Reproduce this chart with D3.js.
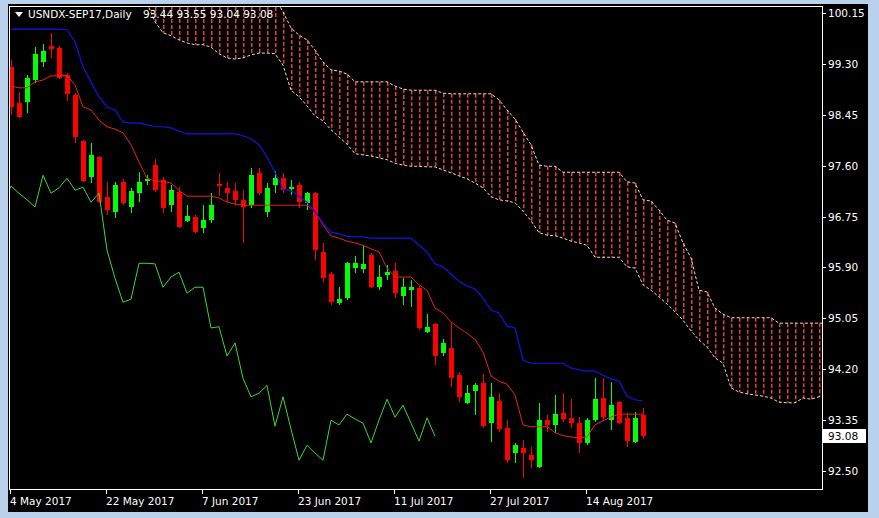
<!DOCTYPE html>
<html><head><meta charset="utf-8">
<script src="https://cdn.jsdelivr.net/npm/d3@7"></script>
<style>
html,body{margin:0;padding:0;background:#b9d1ea;}
svg{display:block}
text{font-family:"DejaVu Sans",sans-serif;}
</style></head><body>
<svg id="chart" width="879" height="518"></svg>
<script>
// ---------- DATA ----------
const symbolTitle = "USNDX-SEP17,Daily";
const lastQuote = ["93.44", "93.55", "93.04", "93.08"];
const currentPrice = 93.08;

const dateTickIndex = [0, 12, 24, 36, 48, 60, 72];
const dateTickLabels = ["4 May 2017", "22 May 2017", "7 Jun 2017", "23 Jun 2017", "11 Jul 2017", "27 Jul 2017", "14 Aug 2017"];
const priceTicks = [100.15, 99.30, 98.45, 97.60, 96.75, 95.90, 95.05, 94.20, 93.35, 92.50];

const opens = [99.25,98.65,98.66,99.03,99.33,99.60,99.57,99.11,98.78,98.01,
  97.41,97.74,97.08,96.83,97.33,96.91,97.14,97.35,97.61,97.36,
  96.94,97.16,96.68,96.74,96.56,96.69,97.29,97.23,97.18,97.03,
  96.94,97.48,96.83,97.28,97.39,97.21,97.28,96.98,97.14,96.16,
  95.79,95.31,95.39,95.89,95.87,96.11,95.57,95.77,95.84,95.42,
  95.52,95.56,94.82,94.96,94.47,94.55,94.10,93.64,93.84,93.97,
  93.30,93.67,93.22,92.80,92.88,92.77,92.57,93.35,93.27,93.47,
  93.39,93.30,92.97,93.35,93.72,93.35,93.65,93.39,92.98,93.44];
const highs = [99.37,98.83,99.11,99.58,99.63,99.82,99.60,99.15,98.81,98.03,
  97.98,97.76,97.33,97.33,97.38,97.23,97.49,97.44,97.71,97.41,
  97.28,97.24,96.94,96.78,96.94,97.14,97.48,97.33,97.31,97.19,
  97.56,97.56,97.31,97.51,97.48,97.36,97.33,97.16,97.16,96.31,
  95.82,95.57,95.99,96.09,96.26,96.14,95.94,95.94,95.97,95.72,
  95.69,95.59,95.12,94.97,94.70,94.97,94.15,93.94,93.97,94.12,
  93.97,93.80,93.35,92.97,93.02,92.90,93.64,93.44,93.77,93.80,
  93.70,93.40,93.39,94.05,94.05,93.99,93.67,93.47,93.49,93.55];
const lows = [98.45,98.40,98.48,98.98,99.25,99.40,99.05,98.68,97.98,97.33,
  97.31,96.98,96.78,96.73,96.94,96.81,96.99,97.28,97.16,96.81,
  96.83,96.56,96.66,96.48,96.48,96.64,97.09,96.99,96.93,96.31,
  96.89,97.11,96.74,97.14,97.14,97.11,96.89,96.86,96.02,95.66,
  95.27,95.27,95.36,95.81,95.81,95.56,95.52,95.69,95.39,95.27,
  95.24,94.86,94.80,94.27,94.42,93.90,93.65,93.62,93.44,93.22,
  92.98,93.15,92.63,92.63,92.38,92.55,92.55,93.15,93.14,93.32,
  93.22,92.80,92.93,93.32,93.35,93.19,93.29,92.90,92.97,93.04];
const closes = [98.58,98.41,99.06,99.47,99.52,99.55,99.06,98.80,98.08,97.34,
  97.78,96.99,96.86,97.28,96.98,97.18,97.33,97.37,97.19,96.89,
  97.19,96.58,96.76,96.49,96.69,96.94,97.26,97.14,97.03,96.91,
  97.44,97.14,97.23,97.39,97.19,97.24,96.99,97.14,96.19,95.72,
  95.32,95.37,95.97,95.97,95.96,95.57,95.74,95.82,95.47,95.57,
  95.57,94.89,94.91,94.42,94.64,94.05,93.74,93.80,93.93,93.25,
  93.74,93.20,92.68,92.93,92.80,92.68,93.35,93.27,93.45,93.37,
  93.30,92.97,93.35,93.70,93.40,93.60,93.30,93.00,93.39,93.08];

const tenkan = [98.93,98.90,98.90,99.00,99.03,99.10,99.10,99.11,98.95,98.58,
  98.53,98.36,98.25,98.21,98.15,97.95,97.66,97.39,97.34,97.34,
  97.31,97.19,97.09,97.09,97.09,97.09,97.06,96.99,96.96,96.94,
  96.94,96.94,96.94,96.94,96.94,96.94,96.94,96.94,96.83,96.61,
  96.43,96.39,96.34,96.31,96.27,96.21,96.16,95.89,95.74,95.74,
  95.74,95.61,95.52,95.22,95.14,94.99,94.89,94.80,94.70,94.49,
  94.09,94.00,93.95,93.77,93.27,93.24,93.24,93.24,93.14,93.09,
  93.07,93.05,93.07,93.27,93.34,93.40,93.45,93.45,93.45,93.45];
const kijun = [99.88,99.88,99.88,99.88,99.88,99.88,99.88,99.87,99.67,99.25,
  99.00,98.75,98.58,98.53,98.33,98.31,98.31,98.28,98.25,98.25,
  98.23,98.18,98.13,98.13,98.13,98.13,98.13,98.13,98.13,98.10,
  98.05,97.95,97.74,97.49,97.21,97.18,97.09,96.99,96.83,96.64,
  96.49,96.46,96.42,96.41,96.41,96.39,96.39,96.39,96.39,96.39,
  96.39,96.27,96.16,95.96,95.91,95.79,95.67,95.59,95.54,95.39,
  95.19,95.14,94.92,94.89,94.35,94.30,94.30,94.30,94.30,94.30,
  94.22,94.19,94.17,94.17,94.10,94.04,94.00,93.75,93.69,93.67];

// cloud (senkou spans), plotted from bar index cloudStart onward
const cloudStart = 17;
const spanUpper = [100.9,100.9,100.9,100.9,100.9,100.9,100.9,100.9,100.9,
  100.75,100.75,100.75,100.75,100.75,100.45,100.45,100.4,
  100.17,99.90,99.78,99.70,99.53,99.33,99.20,99.18,99.13,99.00,
  99.00,99.00,99.00,99.00,98.93,98.88,98.86,98.86,98.86,98.86,
  98.81,98.80,98.80,98.80,98.80,98.80,98.80,98.70,98.53,98.38,
  98.16,97.95,97.61,97.59,97.59,97.49,97.49,97.49,97.49,97.49,
  97.49,97.49,97.49,97.33,97.31,97.03,97.01,96.86,96.69,96.64,
  96.31,96.06,95.52,95.49,95.22,95.12,95.06,95.06,95.06,95.06,
  95.06,95.06,94.97,94.97,94.97,94.97,94.97,94.97,94.97];
const spanLower = [100.32,100.00,99.82,99.77,99.70,99.65,99.62,99.62,99.58,
  99.47,99.40,99.38,99.40,99.45,99.48,99.48,99.47,
  99.28,98.86,98.75,98.60,98.43,98.35,98.20,98.08,97.96,97.80,
  97.78,97.76,97.73,97.70,97.64,97.61,97.59,97.59,97.58,97.58,
  97.53,97.48,97.43,97.38,97.31,97.23,97.08,97.03,97.01,96.98,
  96.84,96.68,96.48,96.44,96.43,96.39,96.34,96.31,96.27,96.07,
  96.07,96.07,96.07,95.91,95.89,95.61,95.52,95.41,95.29,95.16,
  95.02,94.84,94.69,94.57,94.39,94.30,93.89,93.82,93.79,93.77,
  93.75,93.72,93.65,93.64,93.64,93.72,93.70,93.74,93.74];
const chikouShift = 26;

// ---------- LAYOUT ----------
const svg = d3.select("#chart");
const P = {l: 9, r: 822, t: 6, b: 489};
const x = d3.scaleLinear().domain([0, 79]).range([11, 643]);
const y = d3.scaleLinear().domain([92.2, 100.25]).range([489, 7]);
const yTop = P.t + 1;

// window background
svg.append("rect").attr("x", 0).attr("y", 0).attr("width", 879).attr("height", 518).attr("fill", "#b9d1ea");
svg.append("rect").attr("x", 8).attr("y", 4).attr("width", 860).attr("height", 508).attr("fill", "#000");

svg.append("defs").append("clipPath").attr("id", "plotclip")
  .append("rect").attr("x", P.l + 1).attr("y", P.t + 1).attr("width", P.r - P.l - 1).attr("height", P.b - P.t - 1);

// ---------- CLOUD ----------
const cloud = spanUpper.map((u, i) => ({i: cloudStart + i, u: u, l: spanLower[i]}));
const hatchData = cloud.filter(d => x(d.i) < P.r - 1);
svg.append("g").selectAll("line").data(hatchData).join("line")
  .attr("x1", d => Math.round(x(d.i)) + 0.75).attr("x2", d => Math.round(x(d.i)) + 0.75)
  .attr("y1", d => Math.max(yTop, y(d.u))).attr("y2", d => Math.max(yTop, y(d.l)))
  .style("stroke", "#ec3f2c").style("stroke-width", "1.5px").style("stroke-dasharray", "4,2");

const gc = svg.append("g").attr("clip-path", "url(#plotclip)");
const lineU = d3.line().x(d => x(d.i)).y(d => y(d.u));
const lineL = d3.line().x(d => x(d.i)).y(d => y(d.l));
gc.append("path").datum(cloud).attr("d", lineU).attr("fill", "none")
  .attr("stroke", "#f2dccf").attr("stroke-width", 1).attr("stroke-dasharray", "3,2");
gc.append("path").datum(cloud).attr("d", lineL).attr("fill", "none")
  .attr("stroke", "#f2dccf").attr("stroke-width", 1).attr("stroke-dasharray", "3,2");

// ---------- CANDLES ----------
const bars = opens.map((o, i) => ({i, o, h: highs[i], l: lows[i], c: closes[i]}));
const col = d => d.c >= d.o ? "#00ff00" : "#ff0000";
const cg = gc.append("g").attr("shape-rendering", "crispEdges");
cg.selectAll("rect.wick").data(bars).join("rect").attr("class", "wick")
  .attr("x", d => Math.round(x(d.i))).attr("width", 1)
  .attr("y", d => Math.round(y(d.h))).attr("height", d => Math.max(1, Math.round(y(d.l)) - Math.round(y(d.h))))
  .attr("fill", col);
cg.selectAll("rect.body").data(bars).join("rect").attr("class", "body")
  .attr("x", d => Math.round(x(d.i)) - 2).attr("width", 5)
  .attr("y", d => Math.round(y(Math.max(d.o, d.c))))
  .attr("height", d => Math.max(1, Math.round(y(Math.min(d.o, d.c))) - Math.round(y(Math.max(d.o, d.c)))))
  .attr("fill", col);

// ---------- ICHIMOKU LINES ----------
const ln = d3.line().x(d => x(d.i)).y(d => y(d.v));
gc.append("path").datum(tenkan.map((v, i) => ({i, v}))).attr("d", ln)
  .attr("fill", "none").attr("stroke", "#e8231a").attr("stroke-width", 1);
gc.append("path").datum(kijun.map((v, i) => ({i, v}))).attr("d", ln)
  .attr("fill", "none").attr("stroke", "#1414e6").attr("stroke-width", 1.2);
const chikou = closes.map((v, i) => ({i: i - chikouShift, v})).filter(d => d.i >= -1);
gc.append("path").datum(chikou).attr("d", ln)
  .attr("fill", "none").attr("stroke", "#3ed63e").attr("stroke-width", 1);

// ---------- FRAME ----------
svg.append("rect").attr("x", P.l + 0.5).attr("y", P.t + 0.5).attr("width", P.r - P.l).attr("height", P.b - P.t)
  .attr("fill", "none").attr("stroke", "#fff").attr("stroke-width", 1).attr("shape-rendering", "crispEdges");

// price axis
svg.append("g").attr("shape-rendering", "crispEdges").selectAll("line").data(priceTicks).join("line")
  .attr("x1", P.r + 1).attr("x2", P.r + 4)
  .attr("y1", d => Math.round(y(d)) + 0.5).attr("y2", d => Math.round(y(d)) + 0.5)
  .attr("stroke", "#fff");
svg.append("g").selectAll("text").data(priceTicks).join("text")
  .attr("x", 828).attr("y", d => y(d) + 4).attr("fill", "#fff").attr("font-size", "10.5px")
  .text(d => d.toFixed(2));

// current price box
svg.append("rect").attr("x", 823).attr("y", Math.round(y(currentPrice)) - 7).attr("width", 43).attr("height", 14).attr("fill", "#fff");
svg.append("text").attr("x", 828).attr("y", y(currentPrice) + 4).attr("fill", "#000").attr("font-size", "10.5px")
  .text(currentPrice.toFixed(2));

// date axis
svg.append("g").attr("shape-rendering", "crispEdges").selectAll("line").data(dateTickIndex).join("line")
  .attr("x1", d => Math.round(x(d)) - 0.5).attr("x2", d => Math.round(x(d)) - 0.5)
  .attr("y1", P.b + 1).attr("y2", P.b + 5).attr("stroke", "#fff");
svg.append("g").selectAll("text").data(dateTickIndex).join("text")
  .attr("x", d => Math.round(x(d)) - 1).attr("y", 505).attr("fill", "#fff").attr("font-size", "10.5px")
  .text((d, k) => dateTickLabels[k]);

// title
svg.append("path").attr("d", "M15,12 L23,12 L19,17 Z").attr("fill", "#fff");
svg.append("text").attr("x", 28).attr("y", 18).attr("fill", "#fff").attr("font-size", "10.5px").text(symbolTitle);
svg.append("text").attr("x", 143).attr("y", 18).attr("fill", "#fff").attr("font-size", "10.5px").text(lastQuote.join(" "));
</script>
</body></html>
